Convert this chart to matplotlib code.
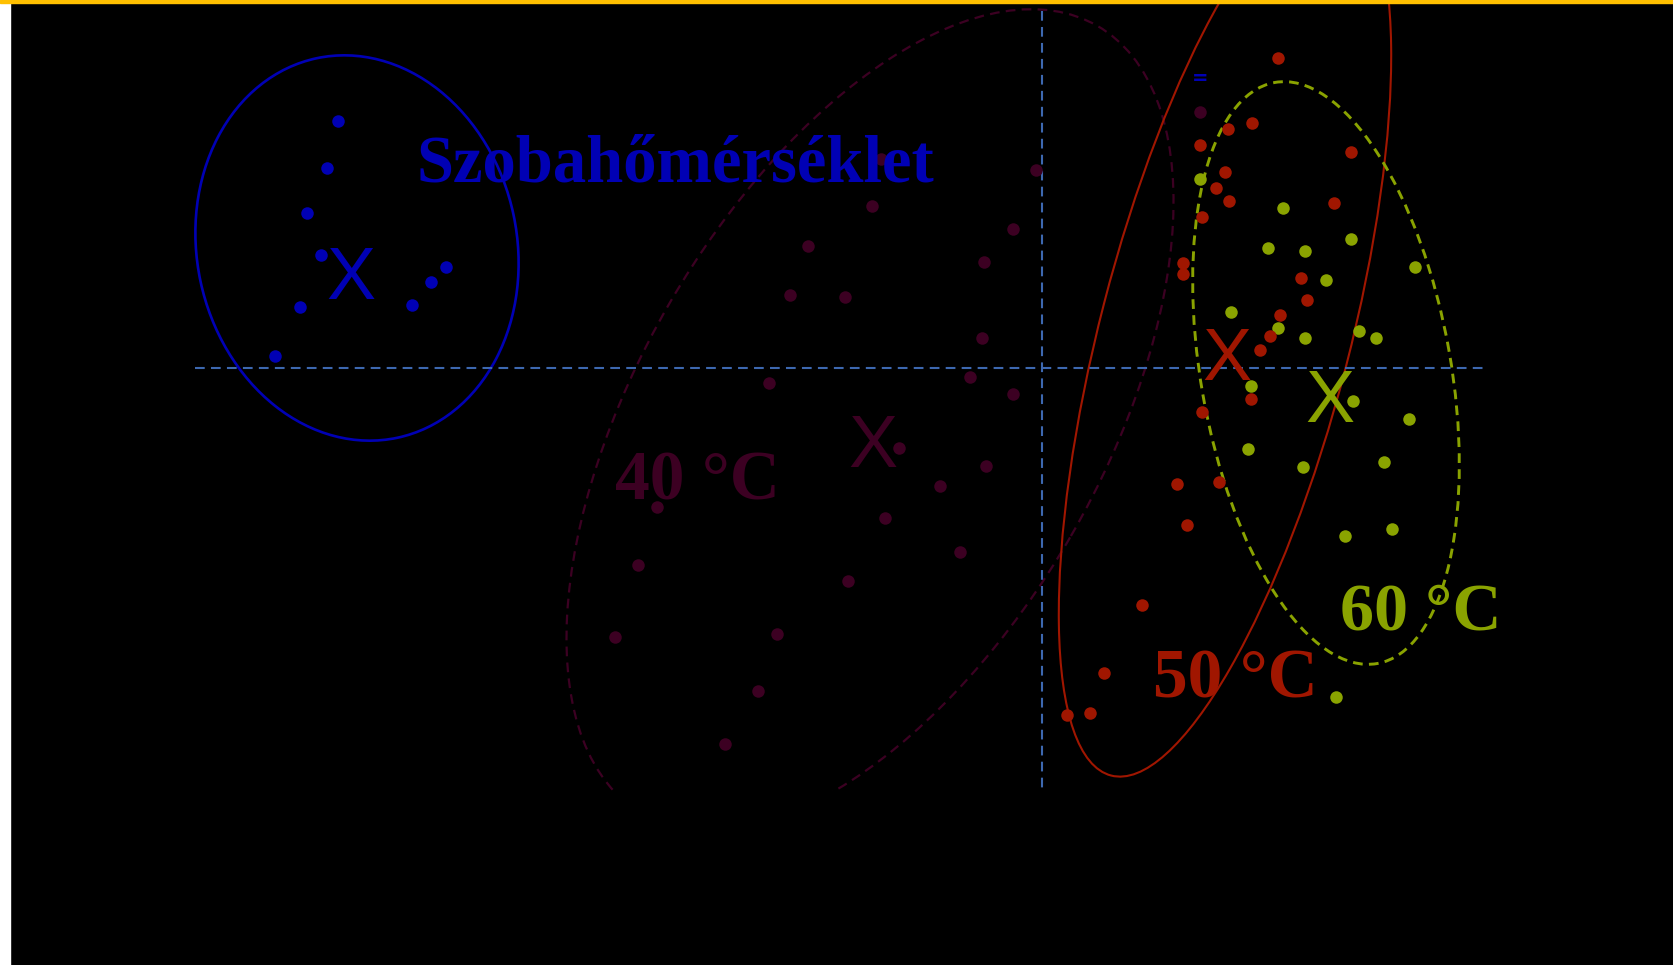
import matplotlib
matplotlib.use("Agg")
import matplotlib.pyplot as plt
from matplotlib.patches import Ellipse, Rectangle

plt.rcParams['lines.scale_dashes'] = False

# score values (PC1, PC2)
blue_pc1 = [-7.04, -7.15, -7.35, -7.21, -7.42, -7.67, -6.30, -6.11, -5.96]
blue_pc2 = [2.47, 2.00, 1.55, 1.13, 0.61, 0.12, 0.63, 0.86, 1.01]

c40_pc1 = [-1.61, -0.06, -1.70, -2.34, -0.29, -0.58, -2.52, -1.97, -0.60, -2.73, -0.72, -0.29,
           -1.43, -0.56, -1.02, -3.85, -1.57, -0.82, -4.04, -1.94, -4.27, -2.65, -2.84, -3.17, 1.58]
c40_pc2 = [2.09, 1.98, 1.62, 1.22, 1.39, 1.06, 0.73, 0.71, 0.30, -0.15, -0.09, -0.26,
           -0.80, -0.98, -1.18, -1.39, -1.50, -1.84, -1.97, -2.13, -2.69, -2.66, -3.23, -3.76, 2.56]

c50_pc1 = [2.36, 2.10, 1.86, 1.58, 3.09, 1.83, 1.74, 1.87, 1.60, 2.92, 1.41, 1.41, 2.59,
           2.65, 2.38, 2.28, 2.18, 2.09, 1.60, 1.35, 1.77, 1.45, 1.00, 0.62, 0.48, 0.25]
c50_pc2 = [3.10, 2.45, 2.39, 2.23, 2.16, 1.96, 1.80, 1.67, 1.51, 1.65, 1.05, 0.94, 0.90,
           0.68, 0.53, 0.32, 0.18, -0.31, -0.44, -1.16, -1.14, -1.57, -2.37, -3.05, -3.45, -3.47]

c60_pc1 = [1.58, 2.41, 2.26, 2.63, 3.09, 3.73, 2.84, 1.89, 2.36, 2.63, 3.17, 3.34, 2.09,
           3.11, 3.67, 2.06, 2.61, 3.42, 3.03, 3.50, 2.94]
c60_pc2 = [1.89, 1.60, 1.20, 1.17, 1.29, 1.01, 0.88, 0.56, 0.40, 0.30, 0.37, 0.30, -0.18,
           -0.33, -0.51, -0.81, -0.99, -0.94, -1.68, -1.61, -3.29]

# group centres (X marks), baseline positions
centres_x = [-6.91, -1.69, 1.85, 2.88]
centres_y = [0.69, -0.99, -0.12, -0.54]

# confidence ellipses: centre x, centre y, width, height, angle
ell_blue = (-6.85, 1.20, 3.88, 3.20, 102)
ell_40 = (-1.72, -0.52, 9.1, 4.64, 60)
ell_50 = (1.83, 0.33, 9.1, 2.5, 75.5)
ell_60 = (2.84, -0.05, 5.9, 2.5, 100)

labels = ["Szobahőmérséklet", "40 °C", "50 °C", "60 °C"]
label_x = [-6.25, -4.27, 1.11, 2.98]
label_y = [1.86, -1.32, -3.30, -2.62]

colors = ["#0000b4", "#3c0022", "#a01600", "#8aa300"]

fig = plt.figure(figsize=(16.73, 9.65), dpi=100, facecolor="black")
ax = fig.add_axes([0, 0, 1, 1])
ax.set_facecolor("black")
ax.set_xlim(-10.42, 6.31)
ax.set_ylim(-5.97, 3.68)
ax.axis("off")

# zero lines
ax.plot([-8.47, 4.43], [0, 0], color="#3d68b0", lw=1.5, dashes=(7, 4.5))
ax.plot([0, 0], [3.57, -4.23], color="#3d68b0", lw=1.5, dashes=(7, 4.5))

# ellipses
e = ell_blue
ax.add_patch(Ellipse((e[0], e[1]), e[2], e[3], angle=e[4], fill=False, ec=colors[0], lw=1.9))
e = ell_40
p40 = Ellipse((e[0], e[1]), e[2], e[3], angle=e[4], fill=False, ec=colors[1], lw=1.6,
              linestyle=(0, (7, 4.5)))
ax.add_patch(p40)
clip = Rectangle((-10.42, -4.23), 16.73, 8.0, transform=ax.transData, visible=False)
ax.add_patch(clip)
p40.set_clip_path(clip)
e = ell_50
ax.add_patch(Ellipse((e[0], e[1]), e[2], e[3], angle=e[4], fill=False, ec=colors[2], lw=1.5))
e = ell_60
ax.add_patch(Ellipse((e[0], e[1]), e[2], e[3], angle=e[4], fill=False, ec=colors[3], lw=2.1,
                     linestyle=(0, (7, 4.5))))

# points
ms = 9
ax.plot(blue_pc1, blue_pc2, "o", color=colors[0], ms=ms, mew=0)
ax.plot(c40_pc1, c40_pc2, "o", color=colors[1], ms=ms, mew=0)
ax.plot(c60_pc1, c60_pc2, "o", color=colors[3], ms=ms, mew=0)
ax.plot(c50_pc1, c50_pc2, "o", color=colors[2], ms=ms, mew=0)

# small blue mark
ax.text(1.58, 2.84, "=", color=colors[0], fontsize=14, ha="center", va="baseline",
        fontweight="bold")

# centres
for cx, cy, c in zip(centres_x, centres_y, colors):
    ax.text(cx, cy, "X", color=c, fontsize=53, family="Liberation Sans",
            ha="center", va="baseline")

# group labels
sizes = [48, 50, 50, 49]
for t, lx, ly, c, fs in zip(labels, label_x, label_y, colors, sizes):
    ax.text(lx, ly, t, color=c, fontsize=fs, family="Liberation Serif",
            fontweight="bold", ha="left", va="baseline")

# frame bits
fig.patches.append(Rectangle((0, 0), 10 / 1673, 1, transform=fig.transFigure,
                             color="white", zorder=5))
fig.patches.append(Rectangle((0, 1 - 3 / 965), 1, 3 / 965, transform=fig.transFigure,
                             color="#ffc000", zorder=6))

fig.savefig("out.png", dpi=100, facecolor="black")
